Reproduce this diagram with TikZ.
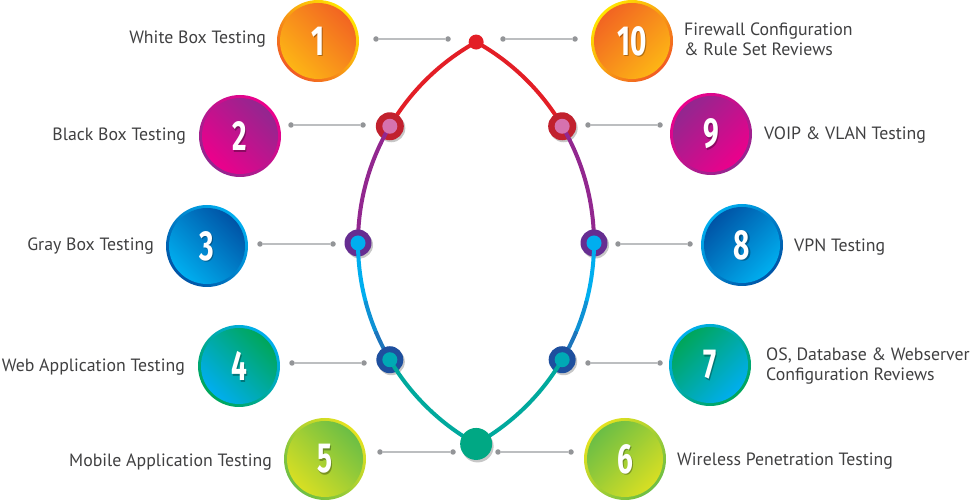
\documentclass[tikz,border=0pt]{standalone}
\usepackage{fontspec}
\setmainfont{PT Sans}
\newfontfamily\numfont{Fira Sans}
\usetikzlibrary{calc}
\definecolor{txt}{HTML}{404041}
\definecolor{connc}{HTML}{BCBEC0}
\definecolor{dotc}{HTML}{939598}
\definecolor{segred}{HTML}{E31E26}
\definecolor{ringred}{HTML}{C1212E}
\definecolor{pinkin}{HTML}{D672AE}
\definecolor{segpurple}{HTML}{92278F}
\definecolor{ringpurple}{HTML}{662D91}
\definecolor{cyanin}{HTML}{00AEEF}
\definecolor{segblue}{HTML}{1C75BC}
\definecolor{ringblue}{HTML}{1E4F9E}
\definecolor{tealin}{HTML}{00A9B5}
\definecolor{segteal}{HTML}{00A99D}
\definecolor{bottomdot}{HTML}{00A884}
\definecolor{orA}{HTML}{F26522}\definecolor{orB}{HTML}{FDB515}
\definecolor{orR}{HTML}{FFE600}\definecolor{orS}{HTML}{F15A24}
\definecolor{mgA}{HTML}{92278F}\definecolor{mgB}{HTML}{EC008C}
\definecolor{blA}{HTML}{0054A6}\definecolor{blB}{HTML}{00AEEF}
\definecolor{tlA}{HTML}{00A65A}\definecolor{tlB}{HTML}{00AEEF}
\definecolor{grA}{HTML}{6CBE45}\definecolor{grB}{HTML}{D7DF23}
\definecolor{grR}{HTML}{E5E21F}
% #1 name, #2 pos, #3 angle, #4 inner top, #5 inner bottom, #6 rim top, #7 rim bottom, #8 number
\newcommand\numball[8]{%
  \node[circle, inner sep=0pt, minimum size=82pt] (#1) at (#2) {};
  \shade[top color=#6, bottom color=#7, shading angle=#3] (#1.center) circle[radius=41pt];
  \shade[top color=#4, bottom color=#5, shading angle=#3] (#1.center) circle[radius=38pt];
  \node[numtxt, text=black, opacity=0.3] (#1s) at ($(#1.center)+(1.2,-1.8)$) {\scalebox{0.7}[1.05]{#8}};
  \node[numtxt] (#1n) at (#1.center) {\scalebox{0.7}[1.05]{#8}};
}
\begin{document}
\begin{tikzpicture}[x=1pt,y=1pt,
  lbl/.style={text=txt, font=\fontsize{17.8}{19.5}\selectfont, inner sep=0pt},
  conn/.style={draw=connc, line width=1.3pt},
  cdot/.style={circle, fill=dotc, inner sep=0pt, minimum size=5.5pt},
  seg/.style={line width=4pt, line cap=round},
  numtxt/.style={text=white, font=\numfont\bfseries\fontsize{40}{40}\selectfont, inner sep=0pt},
  shadowdot/.style={circle, fill=black, opacity=0.22, inner sep=0pt}
]
\useasboundingbox (0,0) rectangle (977,500);

% ---- number balls ----
\numball{b1}{318,459}{-45}{orA}{orB}{orR}{orS}{1}
\numball{b10}{632,459}{45}{orA}{orB}{orR}{orS}{10}
\numball{b2}{240,364}{-45}{mgA}{mgB}{mgB}{mgA}{2}
\numball{b9}{711,366}{45}{mgA}{mgB}{mgB}{mgA}{9}
\numball{b3}{207,254}{-45}{blA}{blB}{blB}{blA}{3}
\numball{b8}{742,255}{45}{blA}{blB}{blB}{blA}{8}
\numball{b4}{239,134}{-45}{tlA}{tlB}{tlB}{tlA}{4}
\numball{b7}{710,135}{45}{tlA}{tlB}{tlB}{tlA}{7}
\numball{b5}{325,41}{-45}{grA}{grB}{grR}{grA}{5}
\numball{b6}{625,41}{45}{grA}{grB}{grR}{grA}{6}

% ---- labels ----
\node[lbl, anchor=base east] (t1) at (266,456) {White Box Testing};
\node[lbl, anchor=base east] (t2) at (186,359) {Black Box Testing};
\node[lbl, anchor=base east] (t3) at (154,249) {Gray Box Testing};
\node[lbl, anchor=base east] (t4) at (185,128) {Web Application Testing};
\node[lbl, anchor=base east] (t5) at (272,33) {Mobile Application Testing};
\node[lbl, anchor=base west] (t10) at (684,464) {\begin{tabular}[t]{@{}l@{}}Firewall Configuration\\ \& Rule Set Reviews\end{tabular}};
\node[lbl, anchor=base west] (t9) at (764,360) {VOIP \& VLAN Testing};
\node[lbl, anchor=base west] (t8) at (794,248) {VPN Testing};
\node[lbl, anchor=base west] (t7) at (766,139) {\begin{tabular}[t]{@{}l@{}}OS, Database \& Webserver\\ Configuration Reviews\end{tabular}};
\node[lbl, anchor=base west] (t6) at (677,34) {Wireless Penetration Testing};

% ---- connectors ----
\foreach \n/\xa/\xb/\yy in {c1L/376/448/461, c10R/503/575/461, c2L/291/363/375, c9R/588/660/375,
  c3L/260/333/256, c8R/618/690/256, c4L/292/364/137, c7R/588/660/137, c5L/380/453/48, c6R/498/571/48}{
  \node[cdot] (\n a) at (\xa,\yy) {};
  \node[cdot] (\n b) at (\xb,\yy) {};
  \draw[conn] (\n a) -- (\n b);
}

% ---- lens path points ----
\coordinate (cL) at (588,257);
\coordinate (cR) at (364,257);
\coordinate (pT) at ($(cL)+(119.1:230)$);
\coordinate (pL2) at ($(cL)+(149.5:230)$);
\coordinate (pL3) at ($(cL)+(180:230)$);
\coordinate (pL4) at ($(cL)+(210.5:230)$);
\coordinate (pB) at ($(cL)+(240.9:230)$);
\coordinate (pR2) at ($(cR)+(30.5:230)$);
\coordinate (pR3) at ($(cR)+(0:230)$);
\coordinate (pR4) at ($(cR)+(-30.5:230)$);
\coordinate (qLa) at ($(cL)+(195:230)$);
\coordinate (qLb) at ($(cL)+(203:230)$);
\coordinate (qRa) at ($(cR)+(-15:230)$);
\coordinate (qRb) at ($(cR)+(-23:230)$);

% red segments
\draw[seg, segred] (pT) arc[start angle=119.1, end angle=149.5, radius=230pt];
\draw[seg, segred] (pT) arc[start angle=60.9, end angle=30.5, radius=230pt];
\node[circle, fill=segred, inner sep=0pt, minimum size=15pt] (top) at (pT) {};

% level 2 rings
\node[shadowdot, minimum size=28pt] (sL2) at ($(pL2)+(1.5,-2)$) {};
\node[shadowdot, minimum size=28pt] (sR2) at ($(pR2)+(1.5,-2)$) {};
\node[circle, fill=ringred, inner sep=0pt, minimum size=28pt] (L2) at (pL2) {};
\node[circle, fill=ringred, inner sep=0pt, minimum size=28pt] (R2) at (pR2) {};
\draw[seg, segpurple] (L2.center) arc[start angle=149.5, end angle=180, radius=230pt];
\draw[seg, segpurple] (R2.center) arc[start angle=30.5, end angle=0, radius=230pt];
\node[circle, fill=pinkin, inner sep=0pt, minimum size=15pt] (L2i) at (pL2) {};
\node[circle, fill=pinkin, inner sep=0pt, minimum size=15pt] (R2i) at (pR2) {};

% level 3 rings
\node[shadowdot, minimum size=27pt] (sL3) at ($(pL3)+(1.5,-2)$) {};
\node[shadowdot, minimum size=27pt] (sR3) at ($(pR3)+(1.5,-2)$) {};
\node[circle, fill=ringpurple, inner sep=0pt, minimum size=27pt] (L3) at (pL3) {};
\node[circle, fill=ringpurple, inner sep=0pt, minimum size=27pt] (R3) at (pR3) {};
\draw[seg, cyanin] (L3.center) arc[start angle=180, end angle=195, radius=230pt];
\draw[seg, cyanin!50!segblue] (qLa) arc[start angle=195, end angle=203, radius=230pt];
\draw[seg, segblue] (qLb) arc[start angle=203, end angle=210.5, radius=230pt];
\draw[seg, cyanin] (R3.center) arc[start angle=0, end angle=-15, radius=230pt];
\draw[seg, cyanin!50!segblue] (qRa) arc[start angle=-15, end angle=-23, radius=230pt];
\draw[seg, segblue] (qRb) arc[start angle=-23, end angle=-30.5, radius=230pt];
\node[circle, fill=cyanin, inner sep=0pt, minimum size=15pt] (L3i) at (pL3) {};
\node[circle, fill=cyanin, inner sep=0pt, minimum size=15pt] (R3i) at (pR3) {};

% level 4 rings
\node[shadowdot, minimum size=27pt] (sL4) at ($(pL4)+(1.5,-2)$) {};
\node[shadowdot, minimum size=27pt] (sR4) at ($(pR4)+(1.5,-2)$) {};
\node[circle, fill=ringblue, inner sep=0pt, minimum size=27pt] (L4) at (pL4) {};
\node[circle, fill=ringblue, inner sep=0pt, minimum size=27pt] (R4) at (pR4) {};
\draw[seg, segteal] (L4.center) arc[start angle=210.5, end angle=240.9, radius=230pt];
\draw[seg, segteal] (R4.center) arc[start angle=-30.5, end angle=-60.9, radius=230pt];
\node[circle, fill=tealin, inner sep=0pt, minimum size=15pt] (L4i) at (pL4) {};
\node[circle, fill=tealin, inner sep=0pt, minimum size=15pt] (R4i) at (pR4) {};

% bottom dot
\node[shadowdot, minimum size=32pt] (sB) at ($(pB)+(1.5,-2.5)$) {};
\node[circle, fill=bottomdot, inner sep=0pt, minimum size=32pt] (bot) at (pB) {};
\end{tikzpicture}
\end{document}
